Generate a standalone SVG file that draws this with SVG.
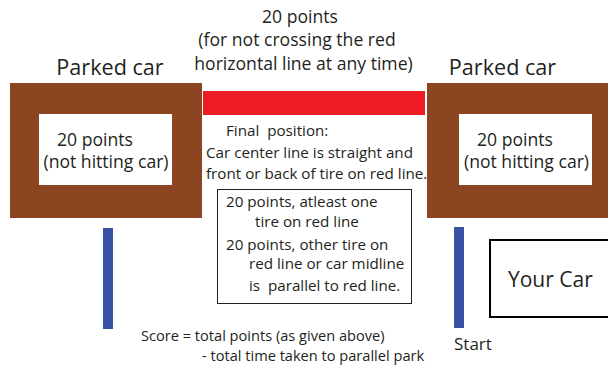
<svg xmlns="http://www.w3.org/2000/svg" width="608" height="369" viewBox="0 0 608 369">
  <style>
    text { font-family: "Open Sans", "Liberation Sans", sans-serif; fill: #231f20; }
    .car { fill: #8b4520; }
    .seat { fill: #ffffff; }
    .head { font-size: 21.6px; }
    .pts { font-size: 17.6px; }
    .note { font-size: 15.2px; }
    .score { font-size: 14.6px; }
    .post { fill: #3953a4; }
  </style>
  <rect width="608" height="369" fill="#ffffff"/>

  <g id="top-rule">
    <text class="pts" text-anchor="middle" x="300" y="23">20 points</text>
    <text class="pts" text-anchor="middle" x="297" y="46">(for not crossing the red</text>
    <text class="pts" text-anchor="middle" x="303.5" y="70">horizontal line at any time)</text>
  </g>

  <g id="red-line">
    <rect x="203" y="91" width="222" height="24" fill="#ed1c24"/>
  </g>

  <g id="parked-car-left">
    <text class="head" text-anchor="middle" x="110" y="75">Parked car</text>
    <rect class="car" x="10" y="83" width="192" height="135"/>
    <rect class="seat" x="39" y="114" width="133" height="71"/>
    <text class="pts" text-anchor="middle" x="95" y="146">20 points</text>
    <text class="pts" text-anchor="middle" x="106" y="168">(not hitting car)</text>
  </g>

  <g id="parked-car-right">
    <text class="head" text-anchor="middle" x="502.5" y="75">Parked car</text>
    <rect class="car" x="427" y="83" width="181" height="135"/>
    <rect class="seat" x="459" y="114" width="133" height="71"/>
    <text class="pts" text-anchor="middle" x="515" y="146">20 points</text>
    <text class="pts" text-anchor="middle" x="526.5" y="168">(not hitting car)</text>
  </g>

  <g id="final-position">
    <text class="note" x="226" y="136" xml:space="preserve">Final  position:</text>
    <text class="note" x="206" y="158">Car center line is straight and</text>
    <text class="note" x="206" y="179">front or back of tire on red line.</text>
  </g>

  <g id="tire-rules">
    <rect x="217.5" y="189.5" width="194" height="114" fill="none" stroke="#231f20" stroke-width="1"/>
    <text class="note" x="226" y="207">20 points, atleast one</text>
    <text class="note" x="255" y="227">tire on red line</text>
    <text class="note" x="226" y="250">20 points, other tire on</text>
    <text class="note" x="249" y="269">red line or car midline</text>
    <text class="note" x="249" y="291" xml:space="preserve">is  parallel to red line.</text>
  </g>

  <g id="post-left">
    <rect class="post" x="103" y="228" width="10" height="101"/>
  </g>

  <g id="post-start">
    <rect class="post" x="454" y="227" width="10" height="101"/>
    <text x="454" y="350" font-size="17">Start</text>
  </g>

  <g id="your-car">
    <rect x="490" y="240" width="125" height="77" fill="#ffffff" stroke="#000000" stroke-width="2"/>
    <text x="508" y="287" font-size="21">Your Car</text>
  </g>

  <g id="score">
    <text class="score" x="141" y="341">Score = total points (as given above)</text>
    <text class="score" x="202" y="361">- total time taken to parallel park</text>
  </g>
</svg>
